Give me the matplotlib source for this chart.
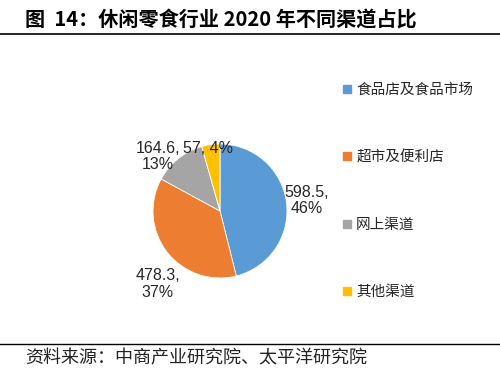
import matplotlib
matplotlib.use("Agg")
import matplotlib.pyplot as plt
from matplotlib.lines import Line2D

plt.rcParams['font.family'] = ['Noto Sans CJK SC', 'DejaVu Sans']

title = "图  14：休闲零食行业 2020 年不同渠道占比"
source = "资料来源：中商产业研究院、太平洋研究院"
categories = ["食品店及食品市场", "超市及便利店", "网上渠道", "其他渠道"]
values = [598.5, 478.3, 164.6, 57]
colors = ["#5B9BD5", "#ED7D31", "#A5A5A5", "#FFC000"]
label_seps = [",\n", ",\n", ",\n", ", "]
label_pos = [(1.30, 0.16), (-0.93, -1.09), (-0.93, 0.81), (-0.18, 0.94)]

W, H = 500, 371
fig = plt.figure(figsize=(W / 100, H / 100), dpi=100)

# pie axes: centre (220, 211) px, radius 67 px, limits +-2
cx, cy, r = 220, 211, 67
ax = fig.add_axes([(cx - 2 * r) / W, (H - cy - 2 * r) / H, 4 * r / W, 4 * r / H])
wedges, _ = ax.pie(values, colors=colors, startangle=90, counterclock=False,
                   radius=1, wedgeprops=dict(edgecolor="white", linewidth=0.6))
ax.set_xlim(-2, 2)
ax.set_ylim(-2, 2)
ax.set_aspect('equal')
ax.axis('off')

total = sum(values)
for v, sep, (x, y) in zip(values, label_seps, label_pos):
    txt = f"{v:g}{sep}{round(v / total * 100):d}%"
    ax.text(x, y, txt, ha='center', va='center', fontsize=11.5,
            family=['Liberation Sans', 'DejaVu Sans'], color='#262626',
            linespacing=1.1)

handles = [Line2D([], [], marker='s', linestyle='none', markersize=6,
                  markerfacecolor=c, markeredgecolor=c) for c in colors]
fig.legend(handles, categories, loc='upper left',
           bbox_to_anchor=(343 / W, 1 - 83 / H), frameon=False,
           fontsize=10.5, labelspacing=3.65, handlelength=0.6,
           handletextpad=0.3, borderpad=0, borderaxespad=0,
           labelcolor='#262626')

fig.text(25 / W, 1 - 20 / H, title, ha='left', va='center',
         fontsize=14.5, fontweight='bold', color='black')
fig.add_artist(Line2D([0, 1], [1 - 33.5 / H, 1 - 33.5 / H], color='black',
                      linewidth=1.2, transform=fig.transFigure))
fig.add_artist(Line2D([0, 1], [1 - 344 / H, 1 - 344 / H], color='black',
                      linewidth=1.0, transform=fig.transFigure))
fig.text(25 / W, 1 - 358 / H, source, ha='left', va='center',
         fontsize=13, style='italic', color='#222222')

fig.savefig("out.png", dpi=100)
